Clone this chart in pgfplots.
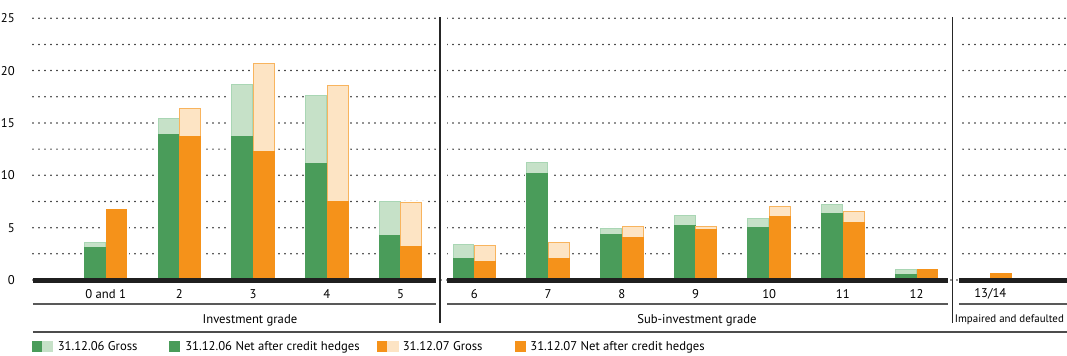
\documentclass[border=0pt]{standalone}
\usepackage{pgfplots}
\pgfplotsset{compat=1.18}
\usepackage{pgfplotstable}
\usepackage{fontspec}
\setmainfont{PT Sans}
\definecolor{dkgreen}{HTML}{4A9C5A}
\definecolor{ltgreen}{HTML}{C6E1C8}
\definecolor{ltgreenb}{HTML}{A9D6B4}
\definecolor{orng}{HTML}{F5921A}
\definecolor{peach}{HTML}{FDE4C4}
\definecolor{orngb}{HTML}{F8B45E}
\newcommand{\chfont}{\fontsize{9.5}{11}\selectfont}

\pgfplotstableread{
x  gg    gn    og    on
0  3.56  3.10  6.70  6.70
1  15.4  13.9  16.4  13.7
2  18.7  13.75 20.7  12.3
3  17.6  11.1  18.6  7.5
4  7.5   4.25  7.4   3.2
5  3.4   2.1   3.3   1.8
6  11.2  10.2  3.6   2.1
7  4.9   4.3   5.1   4.1
8  6.2   5.2   5.1   4.8
9  5.9   5.0   7.05  6.1
10 7.25  6.35  6.55  5.5
11 1.0   0.5   1.0   1.0
12 0     0     0.65  0.65
}\data

\begin{document}
\begin{tikzpicture}
\useasboundingbox (0,0) rectangle (800.25pt,267pt);
\begin{axis}[
  at={(24.75pt,57pt)}, anchor=south west,
  scale only axis, width=775.5pt, height=196.3pt,
  xmin=-0.986, xmax=13.04, ymin=0, ymax=25,
  clip=false,
  axis line style={draw=none},
  major tick length=0pt, minor tick length=0pt,
  xtick={0,...,12},
  xticklabels={0 and 1,2,3,4,5,6,7,8,9,10,11,12,13/14},
  ytick={0,5,...,25}, minor ytick={2.5,7.5,...,22.5},
  ymajorgrids, yminorgrids,
  major grid style={dash pattern=on 0pt off 4.5pt, line cap=round, line width=1.3pt, color=black!85},
  minor grid style={dash pattern=on 0pt off 4.5pt, line cap=round, line width=1.3pt, color=black!85},
  xticklabel style={anchor=center, yshift=-10.5pt, inner sep=0pt, font=\chfont},
  yticklabel style={anchor=east, xshift=-13.5pt, inner sep=0pt, font=\chfont},
  /pgf/number format/assume math mode=true,
  legend columns=4,
  legend cell align=left,
  legend style={at={(-0.001,-0.255)}, anchor=west, draw=none, fill=none, inner sep=0pt,
    column sep=0pt, row sep=0pt,
    nodes={inner sep=0pt, font=\chfont}},
]
% white halos
\addplot[ybar, bar width=0.283, bar shift=-0.147, fill=white, draw=white, line width=3pt, forget plot] table[x=x,y=gg]{\data};
\addplot[ybar, bar width=0.283, bar shift=0.147, fill=white, draw=white, line width=3pt, forget plot] table[x=x,y=og]{\data};
% bars
\addplot[ybar, bar width=0.283, bar shift=-0.147, fill=ltgreen, draw=ltgreenb, line width=0.75pt, forget plot] table[x=x,y=gg]{\data};
\addplot[ybar, bar width=0.283, bar shift=-0.147, fill=dkgreen, draw=dkgreen, line width=0.75pt, forget plot] table[x=x,y=gn]{\data};
\addplot[ybar, bar width=0.283, bar shift=0.147, fill=peach, draw=orngb, line width=0.75pt, forget plot] table[x=x,y=og]{\data};
\addplot[ybar, bar width=0.283, bar shift=0.147, fill=orng, draw=orng, line width=0.75pt, forget plot] table[x=x,y=on]{\data};
% gaps in grid at separators
\fill[white] (axis cs:4.48,0.3) rectangle (axis cs:4.63,25.4);
\fill[white] (axis cs:11.424,0.3) rectangle (axis cs:11.573,25.4);
% baseline
\draw[line width=3.4pt, color=black!88] (axis cs:-0.986,-0.05) -- (axis cs:4.48,-0.05);
\draw[line width=3.4pt, color=black!88] (axis cs:4.63,-0.05) -- (axis cs:11.424,-0.05);
\draw[line width=3.4pt, color=black!88] (axis cs:11.573,-0.05) -- (axis cs:13.04,-0.05);
% second line
\draw[line width=1.5pt, color=black!65] (axis cs:-0.986,-2.29) -- (axis cs:4.48,-2.29);
\draw[line width=1.5pt, color=black!65] (axis cs:4.63,-2.29) -- (axis cs:11.424,-2.29);
\draw[line width=1.5pt, color=black!65] (axis cs:11.573,-2.29) -- (axis cs:13.04,-2.29);
% third line
\draw[line width=1.5pt, color=black!70] (axis cs:-0.986,-4.97) -- (axis cs:13.04,-4.97);
% separators
\draw[line width=1.1pt, color=black!85] (axis cs:4.535,25.1) -- (axis cs:4.535,-4.1);
\draw[line width=1.1pt, color=black!85] (axis cs:11.49,25.1) -- (axis cs:11.49,-4.1);
% group labels
\node[font=\chfont, inner sep=0pt] at (axis cs:1.957,-3.82) {Investment grade};
\node[font=\chfont, inner sep=0pt] at (axis cs:8.02,-3.82) {Sub-investment grade};
\node[font=\fontsize{8.2}{10}\selectfont, inner sep=0pt, anchor=west] at (axis cs:11.515,-3.82) {Impaired and defaulted};
% legend
\addlegendimage{legend image code/.code={\fill[dkgreen] (0pt,-3.75pt) rectangle (7.5pt,3.75pt); \fill[ltgreen] (7.5pt,-3.75pt) rectangle (15pt,3.75pt);}}
\addlegendentry{\makebox[87pt][l]{\hspace{3.75pt}31.12.06 Gross}}
\addlegendimage{legend image code/.code={\fill[dkgreen] (0pt,-3.75pt) rectangle (7.5pt,3.75pt);}}
\addlegendentry{\makebox[148.5pt][l]{\hspace{4.5pt}31.12.06 Net after credit hedges}}
\addlegendimage{legend image code/.code={\fill[orng] (0pt,-3.75pt) rectangle (7.5pt,3.75pt); \fill[peach] (7.5pt,-3.75pt) rectangle (15.75pt,3.75pt);}}
\addlegendentry{\makebox[87pt][l]{\hspace{3pt}31.12.07 Gross}}
\addlegendimage{legend image code/.code={\fill[orng] (0pt,-3.75pt) rectangle (7.5pt,3.75pt);}}
\addlegendentry{\hspace{3.75pt}31.12.07 Net after credit hedges}
\end{axis}
\end{tikzpicture}
\end{document}
